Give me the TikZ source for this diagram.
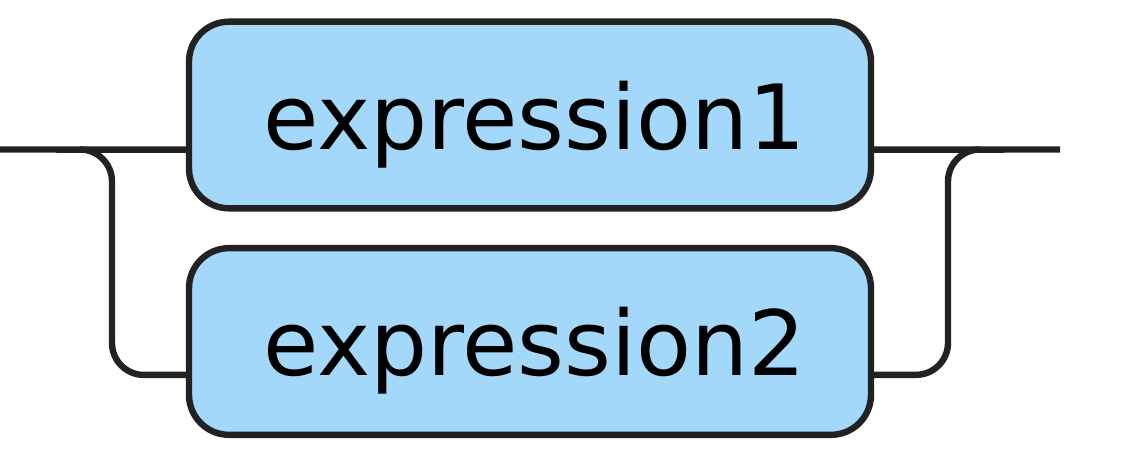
\documentclass[tikz,border=0pt]{standalone}
\usepackage{fontspec}
\setmainfont{DejaVu Sans}
\usetikzlibrary{calc}
\definecolor{railline}{HTML}{222222}
\definecolor{railfill}{HTML}{A3D8FA}
\begin{document}
\begin{tikzpicture}[x=0.75pt,y=-0.75pt,
  railbox/.style={draw=railline,fill=railfill,line width=4.8pt,rounded corners=30pt,
    minimum width=511.5pt,minimum height=140pt,inner sep=0pt,outer sep=0pt,
    font=\fontsize{67.5}{80}\selectfont,text height=51pt,text depth=0pt},
  railtrack/.style={draw=railline,line width=4.8pt,rounded corners=24pt}]
\useasboundingbox (0,0) rectangle (1125,467);
\node[railbox] (box1) at (530,115) {\hspace{7pt}expression1};
\node[railbox] (box2) at (530,341.5) {\hspace{7pt}expression2};
\coordinate (start) at (0,149.5);
\coordinate (split) at (80,149.5);
\coordinate (join) at (980,149.5);
\coordinate (finish) at (1060,149.5);
\draw[railtrack] (start) -- ([yshift=-26pt]box1.west);
\draw[railtrack] ([yshift=-26pt]box1.east) -- (finish);
\draw[railtrack] (split) -| (112,375) -- ([yshift=-25pt]box2.west);
\draw[railtrack] ([yshift=-25pt]box2.east) -| (948,149.5) -- (join);
\end{tikzpicture}
\end{document}
